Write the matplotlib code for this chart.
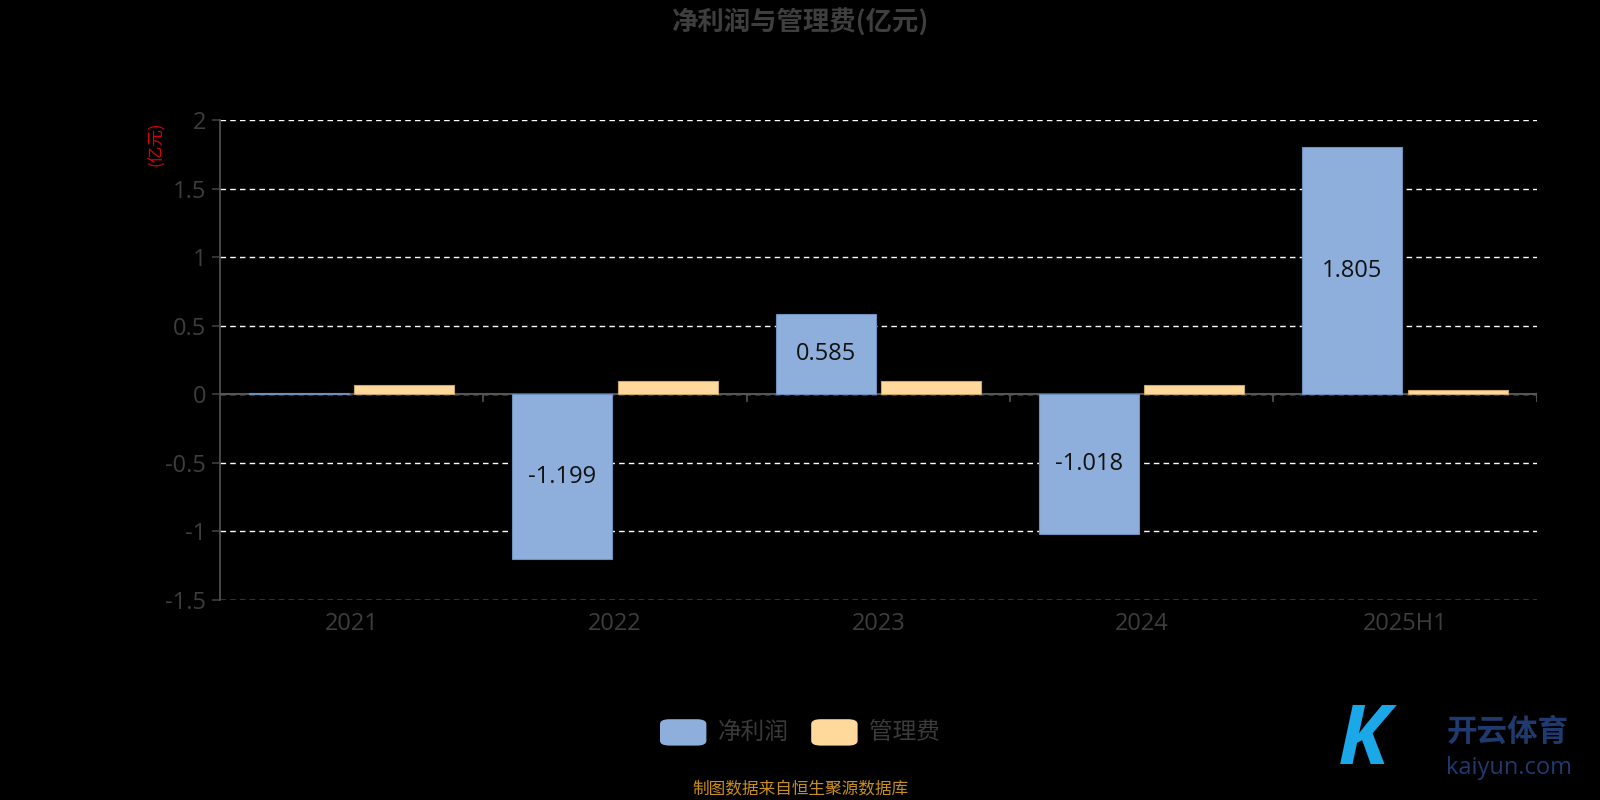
import numpy as np
import matplotlib.pyplot as plt
from matplotlib.patches import FancyBboxPatch

plt.rcParams['font.family'] = ['Open Sans', 'Noto Sans CJK SC', 'DejaVu Sans']

# data
years = ['2021', '2022', '2023', '2024', '2025H1']
net_profit = [0.012, -1.199, 0.585, -1.018, 1.805]
mgmt_fee = [0.065, 0.097, 0.097, 0.067, 0.030]
profit_labels = ['', '-1.199', '0.585', '-1.018', '1.805']
yticks = [-1.5, -1, -0.5, 0, 0.5, 1, 1.5, 2]
ytick_labels = ['-1.5', '-1', '-0.5', '0', '0.5', '1', '1.5', '2']

blue = '#8eafdc'
orange = '#ffd99b'
tick_col = '#3d3d3d'
cjk = ['Noto Sans CJK SC', 'DejaVu Sans']

fig = plt.figure(figsize=(16, 8), dpi=100, facecolor='black')
ax = fig.add_axes([0.1375, 0.25, 0.823, 0.60], facecolor='black')

x = np.arange(len(years))
w = 0.38
ax.bar(x - 0.2, net_profit, w, color=blue, edgecolor='#6f8fbf', linewidth=0.8, zorder=3)
ax.bar(x + 0.2, mgmt_fee, w, color=orange, edgecolor='#c9a870', linewidth=0.8, zorder=3)

for xi, v, lab in zip(x, net_profit, profit_labels):
    if lab:
        ax.text(xi - 0.2, v / 2, lab, ha='center', va='center', fontsize=17, color='#111111', zorder=4)

ax.set_xlim(-0.5, len(years) - 0.5)
ax.set_ylim(-1.5, 2)
ax.set_yticks(yticks)
ax.set_yticklabels(ytick_labels)
ax.set_xticks(x)
ax.set_xticklabels(years)
ax.tick_params(axis='x', colors=tick_col, labelsize=17, length=0, pad=9)
ax.tick_params(axis='y', colors=tick_col, labelsize=17, length=6, width=1.2, pad=4)

# category separators on zero line
for b in np.arange(0.5, len(years) - 0.5 + 1e-9, 1.0):
    ax.plot([b, b], [0, -0.05], color='#555555', lw=1.2, zorder=2)
ax.plot([len(years) - 0.5] * 2, [0, -0.05], color='#555555', lw=1.2, zorder=2)

ax.grid(axis='y', color='white', linestyle=(0, (4, 3)), linewidth=1, zorder=1)
ax.axhline(0, color='#555555', lw=1.5, zorder=2.5)
for s in ['top', 'right', 'bottom']:
    ax.spines[s].set_visible(False)
ax.spines['left'].set_color('#555555')
ax.spines['left'].set_linewidth(1.2)

fig.text(0.5, 0.972, '净利润与管理费(亿元)', ha='center', va='center', fontsize=19,
         fontweight='bold', color='#3e3e3e', family=cjk)
fig.text(0.098, 0.82, '(亿元)', ha='center', va='center', fontsize=12, color='#e00000',
         rotation=90, family=cjk)

# legend
for lx, col, txt in [(0.4125, blue, '净利润'), (0.507, orange, '管理费')]:
    fig.patches.append(FancyBboxPatch((lx, 0.068), 0.029, 0.033, boxstyle='round,pad=0,rounding_size=0.006',
                                      transform=fig.transFigure, facecolor=col, edgecolor='none'))
    fig.text(lx + 0.036, 0.084, txt, ha='left', va='center', fontsize=17, color='#3a3a3a', family=cjk)

fig.text(0.5, 0.013, '制图数据来自恒生聚源数据库', ha='center', va='center', fontsize=12,
         color='#c8901a', family=cjk)

# watermark
fig.text(0.942, 0.086, '开云体育', ha='center', va='center', fontsize=22, color='#1e3a6e',
         fontweight='bold', family=cjk)
fig.text(0.943, 0.040, 'kaiyun.com', ha='center', va='center', fontsize=17, color='#1e3a6e')
fig.text(0.852, 0.072, 'K', ha='center', va='center', fontsize=60, color='#1aa8e8',
         style='italic', fontweight='bold')

fig.savefig('out.png', dpi=100, facecolor='black')
